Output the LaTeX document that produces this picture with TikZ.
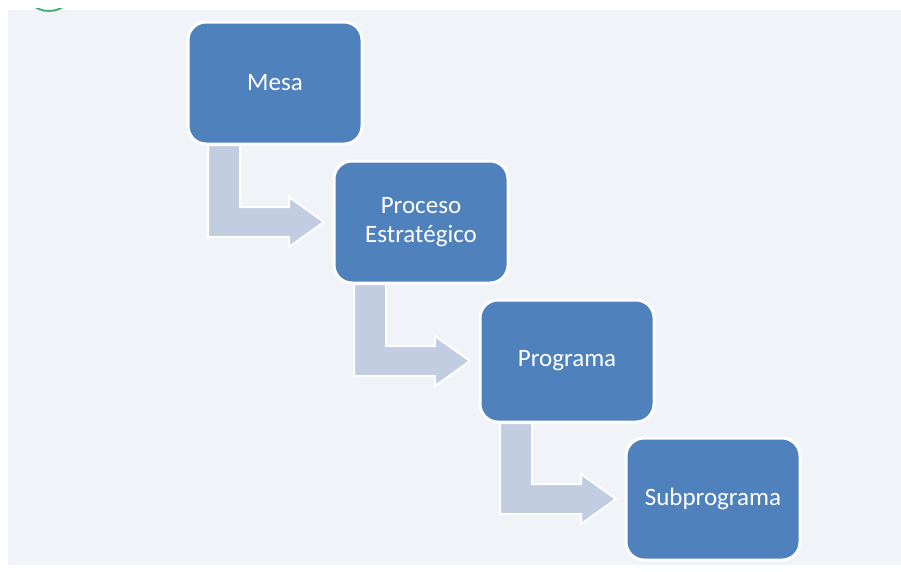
\documentclass[tikz,border=0pt]{standalone}
\usepackage{fontspec}
\setmainfont{Carlito}
\usetikzlibrary{calc}
\definecolor{boxblue}{HTML}{4F81BD}
\definecolor{arrowgray}{HTML}{C3CDE1}
\definecolor{panelbg}{HTML}{F0F3F8}
\definecolor{greenarc}{HTML}{4CAF78}
\newcommand\drawbent[2]{%
  \path[bentarrow] let \p1=(#1.south west), \p2=(#2.west) in
    (\x1+20pt,\y1-1pt) -- (\x1+52pt,\y1-1pt) -- (\x1+52pt,\y2+15pt) --
    (\x2-45pt,\y2+15pt) -- (\x2-45pt,\y2+25pt) -- (\x2-10pt,\y2) --
    (\x2-45pt,\y2-25pt) -- (\x2-45pt,\y2-15pt) -- (\x1+20pt,\y2-15pt) -- cycle;}
\begin{document}
\begin{tikzpicture}[x=1pt,y=-1pt,
  stepbox/.style={rectangle, rounded corners=18pt, fill=boxblue, draw=white,
    line width=3pt, minimum width=174pt, minimum height=122pt, inner sep=0pt,
    outer sep=0pt, text=white, align=center,
    font=\fontsize{25}{29}\selectfont},
  bentarrow/.style={fill=arrowgray, draw=white, line width=2pt, line join=miter}]
\useasboundingbox (0,0) rectangle (901,571);
\fill[panelbg] (8,10) rectangle (901,565);
\begin{scope}
  \clip (0,8.5) rectangle (901,11.5);
  \draw[greenarc, line width=2pt] (49,-15.5) circle (26.5);
\end{scope}
\node[stepbox] (mesa) at (275,83) {Mesa};
\node[stepbox] (proceso) at (421,222) {Proceso\\Estratégico};
\node[stepbox] (programa) at (567,361) {Programa};
\node[stepbox] (subprograma) at (713,499) {Subprograma};
\drawbent{mesa}{proceso}
\drawbent{proceso}{programa}
\drawbent{programa}{subprograma}
\end{tikzpicture}
\end{document}
